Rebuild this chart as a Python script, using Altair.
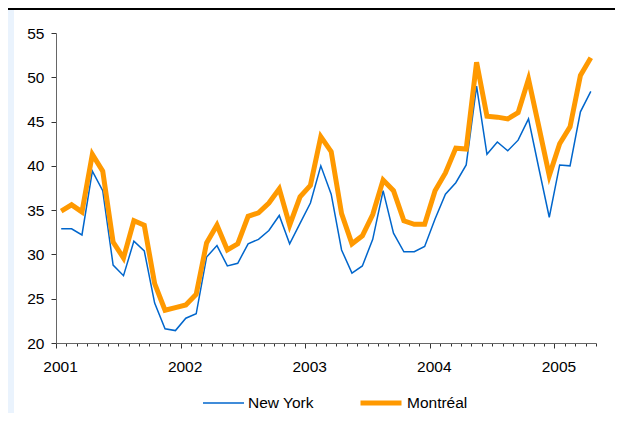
import altair as alt
import pandas as pd

# Monthly index, Jan 2001 .. Apr 2005
months = list(range(52))
year_labels = ["2001", "2002", "2003", "2004", "2005"]
series_names = ["New York", "Montréal"]
series_colors = ["#0066CC", "#FF9900"]

new_york = [32.9, 32.9, 32.2, 39.4, 37.2, 28.8, 27.6, 31.5, 30.4, 24.5, 21.6, 21.4,
            22.8, 23.3, 29.7, 31.0, 28.7, 29.0, 31.2, 31.7, 32.7, 34.4, 31.2, 33.5,
            35.8, 40.0, 36.8, 30.5, 27.9, 28.7, 31.7, 37.2, 32.4, 30.3, 30.3, 30.9,
            34.0, 36.8, 38.1, 40.1, 49.0, 41.3, 42.7, 41.7, 42.9, 45.3, 39.7, 34.2,
            40.1, 40.0, 46.1, 48.4]
montreal = [34.9, 35.6, 34.8, 41.3, 39.4, 31.4, 29.6, 33.8, 33.3, 26.7, 23.7, 24.0,
            24.3, 25.5, 31.3, 33.3, 30.5, 31.2, 34.3, 34.7, 35.8, 37.4, 33.3, 36.5,
            37.8, 43.3, 41.6, 34.6, 31.2, 32.1, 34.5, 38.4, 37.2, 33.8, 33.4, 33.4,
            37.2, 39.2, 42.0, 41.9, 51.7, 45.6, 45.5, 45.3, 46.0, 49.8, 44.4, 38.9,
            42.5, 44.4, 50.2, 52.2]

rows = []
for i in months:
    rows.append({"month": i + 0.5, "city": series_names[0], "value": new_york[i]})
    rows.append({"month": i + 0.5, "city": series_names[1], "value": montreal[i]})
df = pd.DataFrame(rows)

FONT = "Liberation Sans, Arial, sans-serif"
W, H = 540, 310
PAD_L, PAD_T, PAD_R, PAD_B = 48, 25, 19, 70

label_js = "[" + ",".join("'%s'" % y for y in year_labels) + "]"

lines = alt.Chart(df).mark_line(strokeJoin="miter", strokeCap="butt").encode(
    x=alt.X("month:Q",
            scale=alt.Scale(domain=[0, 52], nice=False, zero=False),
            axis=alt.Axis(values=list(range(53)),
                          labelExpr="datum.value % 12 === 0 ? " + label_js + "[datum.value / 12] : ''",
                          tickSize={"condition": {"test": "datum.value % 12 === 0", "value": 5}, "value": 3},
                          labelOverlap=False, labelFlush=False, grid=False, title=None,
                          labelPadding=11, labelOffset=4, domainColor="#666666", tickColor="#333333",
                          labelFontSize=15.5, labelFont=FONT, labelColor="#000000")),
    y=alt.Y("value:Q",
            scale=alt.Scale(domain=[20, 55], nice=False, zero=False),
            axis=alt.Axis(values=[20, 25, 30, 35, 40, 45, 50, 55], grid=False, title=None,
                          tickSize=5, labelPadding=7, domainColor="#666666", tickColor="#333333",
                          labelFontSize=15.5, labelFont=FONT, labelColor="#000000")),
    color=alt.Color("city:N",
                    scale=alt.Scale(domain=series_names, range=series_colors),
                    legend=alt.Legend(title=None, orient="none", direction="horizontal",
                                      legendX=146, legendY=347, symbolType="stroke",
                                      symbolSize=1681, labelFontSize=15.5, labelFont=FONT,
                                      labelColor="#000000", labelOffset=3, columnPadding=36,
                                      padding=0, labelLimit=200)),
    strokeWidth=alt.StrokeWidth("city:N",
                                scale=alt.Scale(domain=series_names, range=[1.5, 5]),
                                legend=alt.Legend(title=None)),
)

deco = pd.DataFrame({"k": [0]})
left_strip = alt.Chart(deco).mark_rect(color="#EAF3FD").encode(
    x=alt.value(-PAD_L), x2=alt.value(-PAD_L + 6),
    y=alt.value(-PAD_T), y2=alt.value(H + PAD_B))
top_rule = alt.Chart(deco).mark_rect(color="#000000").encode(
    x=alt.value(-PAD_L), x2=alt.value(W + PAD_R),
    y=alt.value(-PAD_T), y2=alt.value(-PAD_T + 2))

chart = alt.layer(left_strip, top_rule, lines).properties(
    width=W, height=H,
    autosize=alt.AutoSizeParams(type="none"),
    padding={"left": PAD_L, "top": PAD_T, "right": PAD_R, "bottom": PAD_B},
    background="#FFFFFF",
).configure_view(stroke=None)

chart.save("out.html", embed_options={"renderer": "svg", "actions": False})
